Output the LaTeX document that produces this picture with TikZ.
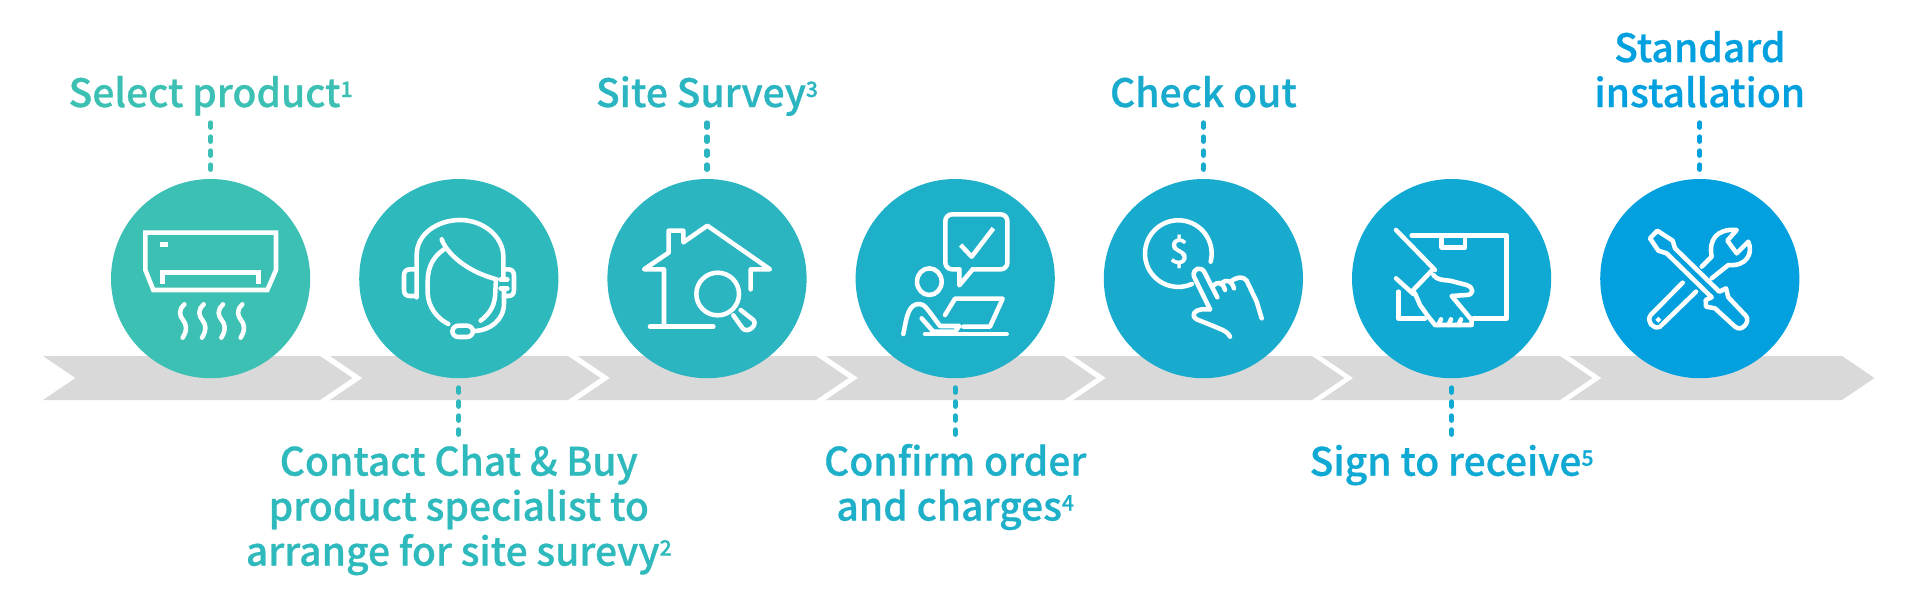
\documentclass[tikz,border=0pt]{standalone}
\usepackage{xcolor}
\usepackage{fontspec}
\setmainfont{Noto Sans CJK SC Medium}[FakeBold=0.6]
\usepackage{tikz}
\definecolor{stepA}{HTML}{3BC0B3}
\definecolor{stepB}{HTML}{2EB9BD}
\definecolor{stepC}{HTML}{2AB5C1}
\definecolor{stepD}{HTML}{1FB0C9}
\definecolor{stepE}{HTML}{18ABCE}
\definecolor{stepF}{HTML}{10A9D3}
\definecolor{stepG}{HTML}{02A0DE}
\newcommand{\supnum}[1]{\raisebox{7.5pt}{\fontsize{16}{16}\selectfont #1}}
\tikzstyle{stepcircle}=[circle,minimum size=149.4pt,inner sep=0pt]
\tikzstyle{steplabel}=[anchor=base,align=center,inner sep=0pt,font=\fontsize{29.3}{33.75}\selectfont]
\tikzstyle{leader}=[line width=3.8pt,line cap=round,dash pattern=on 3.4pt off 7.1pt]
\tikzstyle{band}=[fill=black!15]
\tikzstyle{icon}=[draw=white,line width=3.4pt,line cap=round,line join=round]
\begin{document}
\begin{tikzpicture}[x=.75pt,y=-.75pt]
 \useasboundingbox (0,0) rectangle (1920,600);

 %Band
 \foreach \a/\b in {43/320, 330/568, 577.6/816, 825.7/1064, 1073.5/1312, 1320.8/1560, 1569/1842}
   \path[band] (\a,356) -- (\b,356) -- (\b+32.4,378) -- (\b,400) -- (\a,400) -- (\a+32.4,378) -- cycle;

 %Circles
 \foreach \x/\name/\col in {210.6/A/stepA, 458.8/B/stepB, 707/C/stepC, 955.2/D/stepD, 1203.4/E/stepE, 1451.6/F/stepF, 1699.8/G/stepG}
   \node[stepcircle,fill=\col] (cir\name) at (\x,278.6) {};

 %Labels
 \foreach \x/\y/\name/\col/\label in {
     210.6/107/A/stepA/{Select product\supnum{1}},
     458.8/565.6/B/stepB/{Contact Chat \& Buy\\product specialist to\\arrange for site surevy\supnum{2}},
     707/107/C/stepC/{Site Survey\supnum{3}},
     955.2/520.5/D/stepD/{Confirm order\\and charges\supnum{4}},
     1203.4/107/E/stepE/{Check out},
     1451.6/475.7/F/stepF/{Sign to receive\supnum{5}},
     1699.8/107/G/stepG/{Standard\\installation}}
   \node[steplabel,text=\col] (lab\name) at (\x,\y) {\label};

 %Leaders
 \foreach \name/\col in {A/stepA, C/stepC, E/stepE, G/stepG} {
   \coordinate (tip\name) at ([yshift=44pt]cir\name.north);
   \draw[leader,draw=\col,shorten <=7pt] (cir\name.north) -- (tip\name);
 }
 \foreach \name/\col in {B/stepB, D/stepD, F/stepF} {
   \coordinate (tip\name) at ([yshift=-44pt]cir\name.south);
   \draw[leader,draw=\col,shorten <=7pt] (cir\name.south) -- (tip\name);
 }

 %Air conditioner
 \def\dx{130};
 \def\dy{210};
 \begin{scope}[shift={(\dx,\dy)},x=.25pt,y=-.25pt]
  \path[icon,line join=miter] (46,68) -- (438,68) -- (438,180) -- (412,240) -- (70,240) -- (46,180) -- cycle;
  \path[icon,line join=miter,line cap=butt] (98,222) -- (98,187) -- (385,187) -- (385,222);
  \fill[white] (90,96) rectangle (115,110);
  \foreach \s in {0,58,116,174}
    \path[icon] (163+\s,283) to[out=225,in=90] (150+\s,308) to[out=270,in=90] (168+\s,352) to[out=270,in=60] (158+\s,383);
 \end{scope}

 %Headset
 \def\dx{380};
 \def\dy{210};
 \begin{scope}[shift={(\dx,\dy)},x=.25pt,y=-.25pt]
  \path[icon] (110,262) -- (110,135) .. controls (110,70) and (175,30) .. (240,30) .. controls (310,30) and (370,80) .. (370,140) -- (370,205);
  \path[icon] (108,178) -- (90,178) .. controls (78,178) and (72,185) .. (72,197) -- (72,240) .. controls (72,252) and (78,258) .. (90,258) -- (108,258);
  \path[icon] (375,178) -- (385,178) .. controls (396,178) and (402,185) .. (402,197) -- (402,240) .. controls (402,252) and (396,258) .. (385,258) -- (372,258);
  \path[icon] (362,208) -- (382,208);
  \path[icon] (362,235) -- (382,235);
  \path[icon] (192,118) .. controls (160,140) and (143,170) .. (143,215) -- (143,250) .. controls (145,290) and (170,325) .. (205,342);
  \path[icon] (185,88) .. controls (200,130) and (260,185) .. (350,208);
  \path[icon] (348,208) -- (345,260) .. controls (342,290) and (328,312) .. (302,332);
  \path[icon,rounded corners=4.5pt] (217,347) rectangle (279,381);
  \path[icon] (282,363) .. controls (330,362) and (372,330) .. (372,280) -- (372,235);
 \end{scope}

 %House
 \def\dx{630};
 \def\dy{210};
 \begin{scope}[shift={(\dx,\dy)},x=.25pt,y=-.25pt]
  \path[icon] (60,350) -- (250,350);
  \path[icon] (102,350) -- (102,178) -- (42,178) -- (116,128) -- (116,62) -- (160,62) -- (160,97) -- (232,47) -- (420,178) -- (362,178) -- (362,238);
  \path[icon] (263,252) circle[radius=16pt];
  \path[icon] (310,316) -- (338,355) .. controls (352,372) and (385,345) .. (370,330) -- (332,300);
 \end{scope}

 %Person with laptop
 \def\dx{880};
 \def\dy{200};
 \begin{scope}[shift={(\dx,\dy)},x=.25pt,y=-.25pt]
  \path[icon,rounded corners=5pt] (238,208) -- (196,208) -- (196,43) -- (382,43) -- (382,208) -- (278,208);
  \path[icon] (238,208) -- (238,256) -- (278,208);
  \path[icon,line cap=butt] (242,135) -- (275,170) -- (340,85);
  \path[icon] (148,245) ellipse[x radius=9.25pt,y radius=10pt];
  \path[icon] (70,402) .. controls (80,350) and (85,310) .. (120,312) .. controls (135,314) and (140,325) .. (180,378) -- (238,378) -- (225,395) -- (160,395) -- (125,355);
  \path[icon] (195,345) -- (225,296) -- (368,296) -- (330,380) -- (250,380);
  \path[icon] (135,402) -- (380,402);
 \end{scope}

 %Coin and hand
 \def\dx{1130};
 \def\dy{210};
 \begin{scope}[shift={(\dx,\dy)},x=.25pt,y=-.25pt]
  \path[icon] (242,155) arc[start angle=-14,end angle=294,radius=25pt];
  \node[text=white,font=\fontsize{26}{26}\selectfont] (dollar) at (147,124) {\$};
  \path[icon] (240,298) -- (192,200) .. controls (185,175) and (215,165) .. (225,190) -- (262,262);
  \path[icon] (248,230) .. controls (262,212) and (278,215) .. (285,240);
  \path[icon] (272,222) .. controls (290,205) and (305,212) .. (312,235);
  \path[icon] (302,215) .. controls (320,200) and (340,198) .. (350,212) -- (380,275) -- (395,325);
  \path[icon] (240,298) -- (215,298) .. controls (195,300) and (180,315) .. (200,328) -- (250,348) .. controls (270,358) and (290,360) .. (300,380);
 \end{scope}

 %Box and hand
 \def\dx{1370};
 \def\dy{210};
 \begin{scope}[shift={(\dx,\dy)},x=.25pt,y=-.25pt]
  \path[icon] (125,76) -- (410,76) -- (410,326) -- (310,326);
  \path[icon] (85,245) -- (85,326) -- (165,326);
  \path[icon] (215,78) -- (215,112) -- (285,112) -- (285,78);
  \path[icon] (78,60) -- (195,180);
  \path[icon] (78,205) -- (130,252);
  \path[icon] (185,182) -- (125,245);
  \path[icon] (190,195) .. controls (200,210) and (220,210) .. (240,212) -- (290,225) .. controls (315,235) and (310,255) .. (290,255) -- (245,258) -- (305,330) -- (305,345) -- (195,345) -- (175,320) -- (150,285) -- (135,250);
  \foreach \s in {205,235,265}
    \path[icon] (\s,345) -- (\s+8,328);
 \end{scope}

 %Tools
 \def\dx{1620};
 \def\dy{210};
 \begin{scope}[shift={(\dx,\dy)},x=.25pt,y=-.25pt]
  \path[icon] (90,85) -- (112,62) -- (158,92) -- (165,115) -- (298,245) -- (318,235) -- (325,262) -- (378,318) .. controls (392,335) and (365,368) .. (345,350) -- (285,295) -- (258,290) -- (257,270) -- (275,262) -- (140,130) -- (115,122) -- cycle;
  \path[icon] (188,218) -- (92,315) .. controls (78,335) and (100,360) .. (120,350) -- (228,245);
  \path[icon] (245,170) -- (275,140) .. controls (265,90) and (290,55) .. (350,60) -- (322,92) -- (350,130) -- (385,95) .. controls (400,130) and (380,170) .. (325,165) -- (275,205);
  \fill[white] (115,320) -- (124,329) -- (115,338) -- (106,329) -- cycle;
 \end{scope}
\end{tikzpicture}
\end{document}
